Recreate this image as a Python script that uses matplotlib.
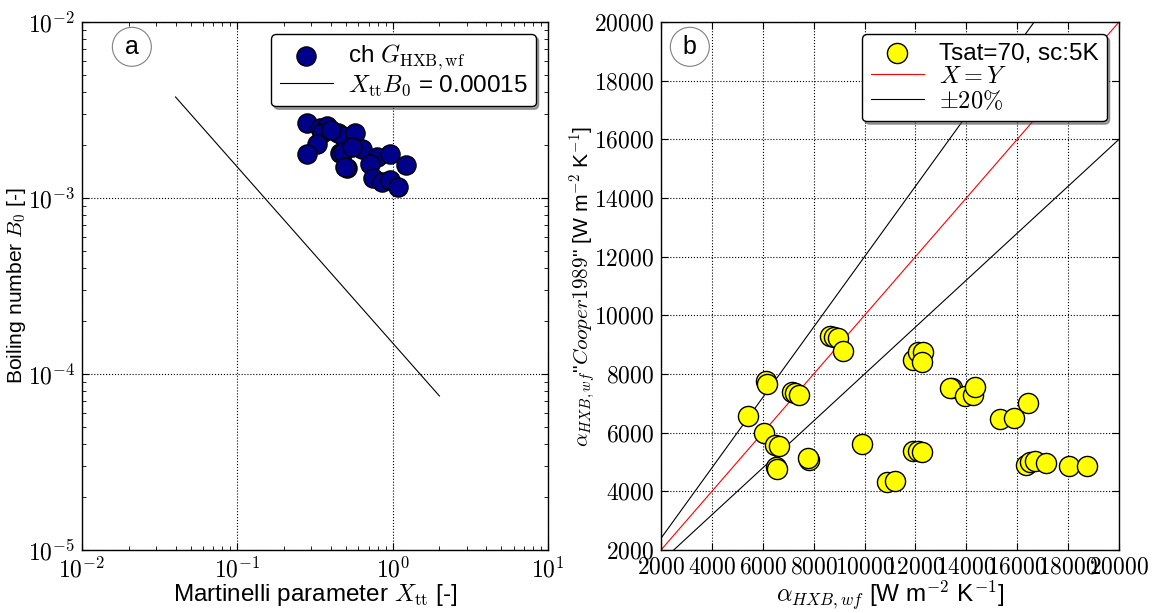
import numpy as np
import matplotlib
matplotlib.use("Agg")
import matplotlib.pyplot as plt
from matplotlib.ticker import FuncFormatter, FixedLocator, LogLocator

plt.rcParams['font.family'] = ['Liberation Sans', 'DejaVu Sans']
plt.rcParams['mathtext.fontset'] = 'cm'

# Panel a data
xtt = [0.281, 0.341, 0.379, 0.351, 0.445, 0.480, 0.573, 0.326, 0.281, 0.458,
       0.480, 0.635, 0.509, 0.49, 0.794, 0.962, 0.715, 1.22, 0.748, 0.855,
       0.962, 1.08, 0.40, 0.55]
bo = [2.67e-3, 2.50e-3, 2.56e-3, 2.34e-3, 2.34e-3, 2.25e-3, 2.34e-3, 2.03e-3, 1.78e-3, 1.80e-3,
      1.83e-3, 1.90e-3, 1.48e-3, 1.50e-3, 1.71e-3, 1.78e-3, 1.56e-3, 1.54e-3, 1.30e-3, 1.23e-3,
      1.26e-3, 1.15e-3, 2.45e-3, 1.95e-3]
line_x = [0.04, 2.0]
line_const = 0.00015

# Panel b data
alpha_meas = [8650, 8800, 8950, 9141, 6115, 6154, 7137, 7266, 7423, 5431,
              6060, 6480, 6649, 6519, 6571, 7828, 7760, 9888, 11915, 12100,
              10870, 11196, 11915, 12100, 12308, 12246, 13425, 13358, 13947, 14250,
              14340, 15323, 15873, 16435, 12246, 16345, 16502, 16698, 17131, 18034,
              18730]
alpha_corr = [9300, 9250, 9230, 8794, 7761, 7659, 7396, 7342, 7284, 6568,
              5999, 5580, 5545, 4840, 4761, 5068, 5126, 5603, 5375, 5375,
              4328, 4352, 8477, 8760, 8760, 8419, 7512, 7512, 7250, 7284,
              7567, 6455, 6490, 7001, 5351, 4898, 5010, 5034, 4976, 4864,
              4874]
xy_range = [2000, 20000]

fig = plt.figure(figsize=(11.53, 6.13), dpi=100)
ax1 = fig.add_axes([82/1153, 1-550/613, 466/1153, 528/613])
ax2 = fig.add_axes([661/1153, 1-550/613, 458/1153, 528/613])

fs_xlab = 17.5
fs_ylab = 15.2
fs_tick = 17
fs_leg = 17.5

# ---- Panel a
ax1.scatter(xtt, bo, s=190, c='#00008B', edgecolors='black', linewidths=1.0, zorder=3,
            label=r'ch $G_{\rm HXB,wf}$')
lx = np.array(line_x)
ax1.plot(lx, line_const/lx, color='black', lw=0.8, label=r'$X_{\rm tt}B_0$ = 0.00015')
ax1.set_xscale('log')
ax1.set_yscale('log')
ax1.set_xlim(1e-2, 1e1)
ax1.set_ylim(1e-5, 1e-2)
logfmt = FuncFormatter(lambda v, p: r'$10^{%d}$' % int(round(np.log10(v))))
ax1.xaxis.set_major_formatter(logfmt)
ax1.yaxis.set_major_formatter(logfmt)
ax1.xaxis.set_minor_locator(LogLocator(subs=np.arange(2, 10)))
ax1.yaxis.set_minor_locator(LogLocator(subs=np.arange(2, 10)))
ax1.set_xlabel(r'Martinelli parameter $X_{\rm tt}$ [-]', fontsize=fs_xlab, labelpad=0)
ax1.set_ylabel(r'Boiling number $B_0$ [-]', fontsize=fs_ylab, labelpad=0)
ax1.grid(True, which='major', color='black', linestyle=':', linewidth=0.8)
leg1 = ax1.legend(loc='upper right', fontsize=fs_leg, fancybox=True, shadow=True,
                  framealpha=1, edgecolor='black', handlelength=2.2, labelspacing=0.05,
                  borderpad=0.35, scatterpoints=1, handletextpad=0.6)
leg1.get_frame().set_linewidth(1.0)
ax1.text(0.107, 0.953, 'a', transform=ax1.transAxes, fontsize=18, ha='center', va='center',
         bbox=dict(boxstyle='circle,pad=0.3', fc='white', ec='gray', lw=0.8))

# ---- Panel b
ax2.scatter(alpha_meas, alpha_corr, s=210, c='yellow', edgecolors='black', linewidths=1.0,
            zorder=3, label='Tsat=70, sc:5K')
r = np.array(xy_range)
ax2.plot(r, r, color='red', lw=0.8, label=r'$X=Y$')
ax2.plot(r, 1.2*r, color='black', lw=0.8, label=r'$\pm 20\%$')
ax2.plot(r, 0.8*r, color='black', lw=0.8)
ax2.set_xlim(2000, 20000)
ax2.set_ylim(2000, 20000)
ticks = np.arange(2000, 20001, 2000)
ax2.xaxis.set_major_locator(FixedLocator(ticks))
ax2.yaxis.set_major_locator(FixedLocator(ticks))
numfmt = FuncFormatter(lambda v, p: r'$%d$' % int(round(v)))
ax2.xaxis.set_major_formatter(numfmt)
ax2.yaxis.set_major_formatter(numfmt)
ax2.set_xlabel(r'$\alpha_{HXB,wf}$ [W m$^{-2}$ K$^{-1}$]', fontsize=fs_xlab, labelpad=0)
ax2.set_ylabel(r'$\alpha_{HXB,wf}$"$Cooper1989$" [W m$^{-2}$ K$^{-1}$]', fontsize=fs_ylab, labelpad=-3)
ax2.grid(True, which='major', color='black', linestyle=':', linewidth=0.8)
leg2 = ax2.legend(loc='upper right', fontsize=fs_leg, fancybox=True, shadow=True,
                  framealpha=1, edgecolor='black', handlelength=2.2, labelspacing=0.05,
                  borderpad=0.35, scatterpoints=1, handletextpad=0.6)
leg2.get_frame().set_linewidth(1.0)
ax2.text(0.063, 0.953, 'b', transform=ax2.transAxes, fontsize=18, ha='center', va='center',
         bbox=dict(boxstyle='circle,pad=0.3', fc='white', ec='gray', lw=0.8))

for ax in (ax1, ax2):
    ax.tick_params(which='both', direction='in', top=True, right=True, labelsize=fs_tick, pad=5)
    ax.tick_params(which='major', length=5)
    ax.tick_params(which='minor', length=3)
    for s in ax.spines.values():
        s.set_linewidth(1.0)

fig.savefig('out.png', dpi=100)
